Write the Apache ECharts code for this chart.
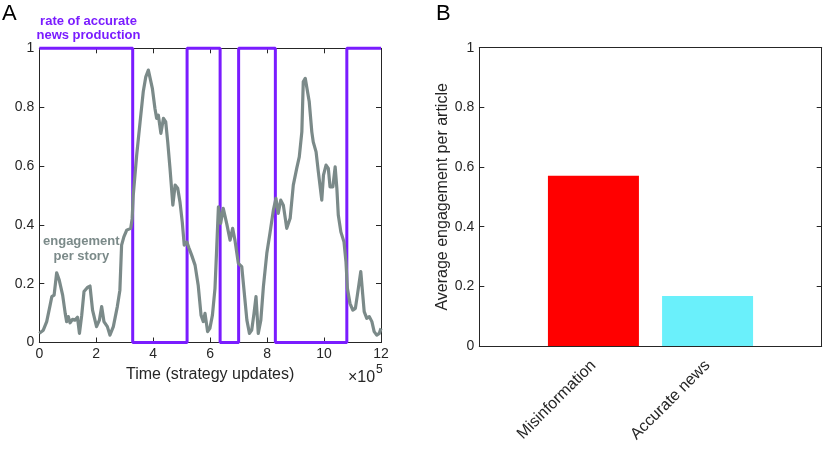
<!DOCTYPE html>
<html>
<head>
<meta charset="utf-8">
<script src="https://cdn.jsdelivr.net/npm/echarts@6/dist/echarts.min.js"></script>
<style>html,body{margin:0;padding:0;background:#fff}#c{width:825px;height:453px}</style>
</head>
<body>
<div id="c"></div>
<script>
// Panel A: time in units of 1e5 strategy updates
const engTime = [0.00,0.14,0.26,0.38,0.44,0.52,0.61,0.70,0.82,0.91,0.96,1.02,1.08,1.17,1.25,1.34,1.41,1.49,1.57,1.69,1.78,1.87,2.01,2.11,2.19,2.27,2.39,2.48,2.60,2.74,2.83,2.89,2.97,3.07,3.21,3.26,3.30,3.42,3.54,3.65,3.74,3.83,3.90,3.97,4.06,4.12,4.18,4.27,4.36,4.44,4.51,4.59,4.69,4.77,4.86,4.94,5.02,5.09,5.18,5.26,5.35,5.47,5.58,5.68,5.76,5.82,5.91,5.99,6.08,6.17,6.23,6.29,6.37,6.46,6.58,6.70,6.79,6.87,6.99,7.11,7.20,7.29,7.38,7.46,7.54,7.61,7.69,7.78,7.87,7.99,8.10,8.22,8.31,8.39,8.48,8.57,8.69,8.81,8.92,9.04,9.13,9.22,9.27,9.34,9.41,9.48,9.57,9.62,9.72,9.80,9.92,9.98,10.07,10.15,10.21,10.31,10.39,10.45,10.50,10.59,10.70,10.77,10.82,10.91,11.01,11.10,11.17,11.29,11.36,11.41,11.50,11.59,11.68,11.76,11.85,11.94,12.00];
const engValue = [0.031,0.042,0.071,0.127,0.156,0.161,0.237,0.212,0.161,0.099,0.071,0.088,0.067,0.079,0.076,0.086,0.031,0.093,0.173,0.187,0.192,0.110,0.054,0.076,0.122,0.071,0.054,0.025,0.054,0.122,0.178,0.331,0.359,0.382,0.388,0.420,0.501,0.637,0.750,0.852,0.903,0.926,0.929,0.864,0.796,0.762,0.773,0.711,0.762,0.750,0.682,0.592,0.467,0.535,0.524,0.478,0.410,0.331,0.342,0.320,0.297,0.263,0.195,0.093,0.071,0.099,0.037,0.048,0.093,0.184,0.320,0.461,0.405,0.456,0.405,0.348,0.388,0.348,0.269,0.258,0.167,0.076,0.031,0.042,0.099,0.156,0.031,0.076,0.190,0.303,0.371,0.450,0.490,0.439,0.484,0.467,0.388,0.422,0.535,0.592,0.631,0.716,0.886,0.898,0.903,0.818,0.716,0.682,0.648,0.580,0.484,0.569,0.603,0.592,0.529,0.529,0.597,0.524,0.433,0.376,0.342,0.274,0.184,0.133,0.110,0.116,0.161,0.241,0.161,0.105,0.082,0.088,0.071,0.037,0.025,0.031,0.048];
// rate of accurate news production: value held from each switch time
const rateTime = [0, 3.28, 5.19, 6.35, 7.00, 8.29, 10.80, 12];
const rateValue = [1, 0, 1, 0, 1, 0, 1, 1];
const xTicksA = [0, 2, 4, 6, 8, 10, 12];
// Panel B
const barCategories = ['Misinformation', 'Accurate news'];
const barValues = [0.571, 0.168];

const AX = '#262626';
const PURPLE = '#7a1cff';
const GRAY = '#7b8a89';
const BAR_COLORS = ['#ff0000', '#6af0fb'];
const FONT = 'Liberation Sans, Arial, Helvetica, sans-serif';

const chart = echarts.init(document.getElementById('c'), null, {renderer: 'canvas'});

function tickAxis(extra) {
  return Object.assign({
    type: 'value',
    axisLine: {show: true, onZero: false, lineStyle: {color: AX, width: 1}},
    axisTick: {show: true, inside: true, length: 5, lineStyle: {color: AX, width: 1}},
    splitLine: {show: false},
    axisLabel: {show: false}
  }, extra);
}

const option = {
  animation: false,
  textStyle: {fontFamily: FONT},
  grid: [
    {left: 39.3, top: 48.3, width: 341.7, height: 294.2, containLabel: false},
    {left: 479.3, top: 47.7, width: 342.4, height: 298.3, containLabel: false}
  ],
  xAxis: [
    tickAxis({gridIndex: 0, min: 0, max: 12, interval: 2, position: 'bottom',
      axisLabel: {show: true, color: AX, fontSize: 14, margin: 5, fontFamily: FONT,
        formatter: v => xTicksA.includes(v) ? String(v) : ''},
      name: 'Time (strategy updates)', nameLocation: 'middle', nameGap: 23,
      nameTextStyle: {color: AX, fontSize: 16, fontFamily: FONT}}),
    tickAxis({gridIndex: 0, min: 0, max: 12, interval: 2, position: 'top'}),
    tickAxis({gridIndex: 1, min: 0, max: 3, interval: 1, position: 'bottom',
      axisTick: {show: false},
      axisLabel: {show: true, color: AX, fontSize: 16, rotate: 45, margin: 17, fontFamily: FONT,
        showMinLabel: true, showMaxLabel: true,
        formatter: v => barCategories[v - 1] || ''}}),
    tickAxis({gridIndex: 1, min: 0, max: 3, interval: 1, position: 'top', axisTick: {show: false}})
  ],
  yAxis: [
    tickAxis({gridIndex: 0, min: 0, max: 1, interval: 0.2, position: 'left',
      axisLabel: {show: true, color: AX, fontSize: 14, margin: 5, fontFamily: FONT}}),
    tickAxis({gridIndex: 0, min: 0, max: 1, interval: 0.2, position: 'right'}),
    tickAxis({gridIndex: 1, min: 0, max: 1, interval: 0.2, position: 'left',
      axisLabel: {show: true, color: AX, fontSize: 14, margin: 5, fontFamily: FONT},
      name: 'Average engagement per article', nameLocation: 'middle', nameGap: 19,
      nameTextStyle: {color: AX, fontSize: 16, fontFamily: FONT}}),
    tickAxis({gridIndex: 1, min: 0, max: 1, interval: 0.2, position: 'right'})
  ],
  series: [
    {
      type: 'line', xAxisIndex: 0, yAxisIndex: 0, step: 'end', clip: false,
      symbol: 'none', data: rateTime.map((t, i) => [t, rateValue[i]]),
      lineStyle: {color: PURPLE, width: 3}, z: 3
    },
    {
      type: 'line', xAxisIndex: 0, yAxisIndex: 0, clip: false,
      symbol: 'none', data: engTime.map((t, i) => [t, engValue[i]]),
      lineStyle: {color: GRAY, width: 3.2, join: 'round'}, z: 4
    },
    {
      type: 'bar', xAxisIndex: 2, yAxisIndex: 2, barWidth: 91,
      data: barValues.map((v, i) => [i + 1, v]),
      itemStyle: {color: p => BAR_COLORS[p.dataIndex]}
    }
  ],
  graphic: [
    {type: 'text', left: 2, top: 3, style: {text: 'A', fontSize: 22, fill: '#000', fontFamily: FONT}},
    {type: 'text', left: 436, top: 3, style: {text: 'B', fontSize: 22, fill: '#000', fontFamily: FONT}},
    {type: 'text', x: 88.5, y: 28.7, style: {text: 'rate of accurate\nnews production', fontSize: 13, fontWeight: 'bold',
      fill: PURPLE, align: 'center', verticalAlign: 'middle', lineHeight: 14, fontFamily: FONT}},
    {type: 'text', x: 81.3, y: 249, style: {text: 'engagement\nper story', fontSize: 13, fontWeight: 'bold',
      fill: GRAY, align: 'center', verticalAlign: 'middle', lineHeight: 15, fontFamily: FONT}, z: 10},
    {type: 'text', x: 348, y: 378, style: {text: '×10', fontSize: 16, fill: AX, verticalAlign: 'middle', fontFamily: FONT}},
    {type: 'text', x: 376, y: 370, style: {text: '5', fontSize: 12, fill: AX, verticalAlign: 'middle', fontFamily: FONT}}
  ]
};
chart.setOption(option);
</script>
</body>
</html>
